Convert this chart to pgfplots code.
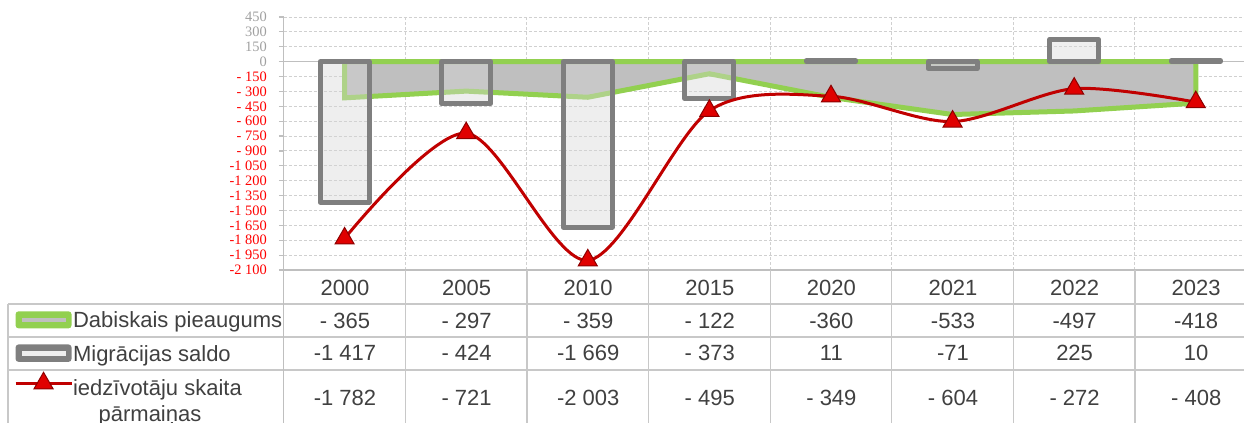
\documentclass[border=0pt]{standalone}
\usepackage{fontspec}
\setmainfont{Liberation Sans}
\newfontfamily\tickfont{Liberation Serif}
\usepackage{pgfplots}
\pgfplotsset{compat=1.18}
\definecolor{grn}{HTML}{92D050}
\definecolor{areagray}{HTML}{BFBFBF}
\definecolor{bargray}{HTML}{7F7F7F}
\definecolor{barfill}{HTML}{D6D6D6}
\definecolor{barkey}{HTML}{EEEEEE}
\definecolor{linered}{HTML}{C00000}
\definecolor{mkred}{HTML}{E00000}
\definecolor{txt}{HTML}{404040}
\definecolor{gridc}{HTML}{D0D0D0}
\definecolor{axisgray}{HTML}{BFBFBF}
\definecolor{tabline}{HTML}{C8C8C8}
\definecolor{posgray}{HTML}{A0A0A0}
\begin{document}
\begin{tikzpicture}
\useasboundingbox (0,0) rectangle (622pt,-211.5pt);
\begin{axis}[
  at={(141.9pt,-135pt)}, anchor=south west,
  scale only axis, width=486.4pt, height=126.5pt,
  xmin=-0.5, xmax=7.5, ymin=-2100, ymax=450,
  clip=false,
  axis lines*=left,
  axis line style={draw=axisgray, line width=0.6pt},
  xtick={0.5,1.5,2.5,3.5,4.5,5.5,6.5}, xticklabels={},
  xtick style={draw=none},
  ytick={-2100,-1950,...,450},
  yticklabels={\textcolor{red}{-2 100},\textcolor{red}{-1 950},\textcolor{red}{-1 800},\textcolor{red}{-1 650},\textcolor{red}{-1 500},\textcolor{red}{-1 350},\textcolor{red}{-1 200},\textcolor{red}{-1 050},\textcolor{red}{- 900},\textcolor{red}{- 750},\textcolor{red}{- 600},\textcolor{red}{- 450},\textcolor{red}{- 300},\textcolor{red}{- 150},\textcolor{posgray}{0},\textcolor{posgray}{150},\textcolor{posgray}{300},\textcolor{posgray}{450}},
  yticklabel style={font=\tickfont\fontsize{7.2}{8}\selectfont, xshift=-2.5pt},
  tick align=outside, major tick length=2.5pt,
  ytick style={draw=axisgray, line width=0.6pt},
  grid=major,
  major grid style={dash pattern=on 1.5pt off 1pt, draw=gridc, line width=0.5pt},
  extra y ticks={0}, extra y tick labels={},
  extra y tick style={grid=major, major grid style={solid, draw=axisgray, line width=0.6pt}},
  legend cell align=left,
  legend style={at={(-0.2773,-0.1411)}, anchor=north west, draw=none, fill=none,
    inner sep=0pt, outer sep=0pt, row sep=0pt, column sep=0pt,
    font=\fontsize{11}{13}\selectfont\color{txt},
    nodes={inner sep=0pt, outer sep=0pt, text height=11pt, text depth=5.65pt}},
]
\addplot[fill=areagray, draw=grn, line width=2.5pt,
  legend image code/.code={
    \path[fill=grn, fill opacity=1, draw=none, rounded corners=1.5pt] (0pt,-3.0pt) rectangle (28pt,5.5pt);
    \path[draw=areagray, draw opacity=1, line width=2pt] (3.3pt,1.3pt) -- (25pt,1.3pt);}]
  coordinates {(0,0) (0,-365) (1,-297) (2,-359) (3,-122) (4,-360) (5,-533) (6,-497) (7,-418) (7,0)} \closedcycle;
\addlegendentry{Dabiskais pieaugums}
\addplot[ybar, bar width=24.5pt, draw=bargray, line width=2.5pt, line join=round,
  fill=barfill, fill opacity=0.42,
  legend image code/.code={
    \path[fill=bargray, fill opacity=1, draw=none, rounded corners=1.5pt] (0pt,-3.1pt) rectangle (28pt,5.6pt);
    \path[draw=barkey, draw opacity=1, line width=2.5pt] (3.3pt,1.25pt) -- (25pt,1.25pt);}]
  coordinates {(0,-1417) (1,-424) (2,-1669) (3,-373) (4,11) (5,-71) (6,225) (7,10)};
\addlegendentry{Migrācijas saldo}
\addplot[smooth, linered, line width=1.5pt, mark=triangle*, mark size=5.5pt,
  mark options={fill=mkred, draw=red!55!black, line width=0.5pt, solid},
  legend image code/.code={
    \draw[mark repeat=2, mark phase=2, yshift=3.3pt] plot coordinates {(0pt,0pt) (14pt,0pt) (28pt,0pt)};}]
  coordinates {(0,-1782) (1,-721) (2,-2003) (3,-495) (4,-349) (5,-604) (6,-272) (7,-408)};
\addlegendentry{iedzīvotāju skaita}
\end{axis}
\begin{scope}[x=0.5pt, y=-0.5pt]
  \draw[tabline, line width=0.6pt] (8,304) -- (1260,304);
  \draw[tabline, line width=0.6pt] (8,337) -- (1260,337);
  \draw[tabline, line width=0.6pt] (8,370) -- (1260,370);
  \draw[tabline, line width=0.6pt] (8,304) -- (8,430);
  \draw[axisgray, line width=0.6pt] (283.8,270) -- (283.8,430);
  \foreach \i in {1,...,7} \draw[tabline, line width=0.6pt] ({283.8+121.6*\i},270) -- ({283.8+121.6*\i},430);
  \begin{scope}[every node/.style={font=\fontsize{11}{13}\selectfont, text=txt, anchor=base, inner sep=0pt}]
  \foreach \v [count=\i from 0] in {2000,2005,2010,2015,2020,2021,2022,2023}
    \node at ({345+121.6*\i},295) {\v};
  \foreach \v [count=\i from 0] in {- 365,- 297,- 359,- 122,-360,-533,-497,-418}
    \node at ({345+121.6*\i},328.3) {\v};
  \foreach \v [count=\i from 0] in {-1 417,- 424,-1 669,- 373,11,-71,225,10}
    \node at ({345+121.6*\i},360.7) {\v};
  \foreach \v [count=\i from 0] in {-1 782,- 721,-2 003,- 495,- 349,- 604,- 272,- 408}
    \node at ({345+121.6*\i},405.7) {\v};
  \node at (150,421) {pārmaiņas};
  \end{scope}
\end{scope}
\end{tikzpicture}
\end{document}
